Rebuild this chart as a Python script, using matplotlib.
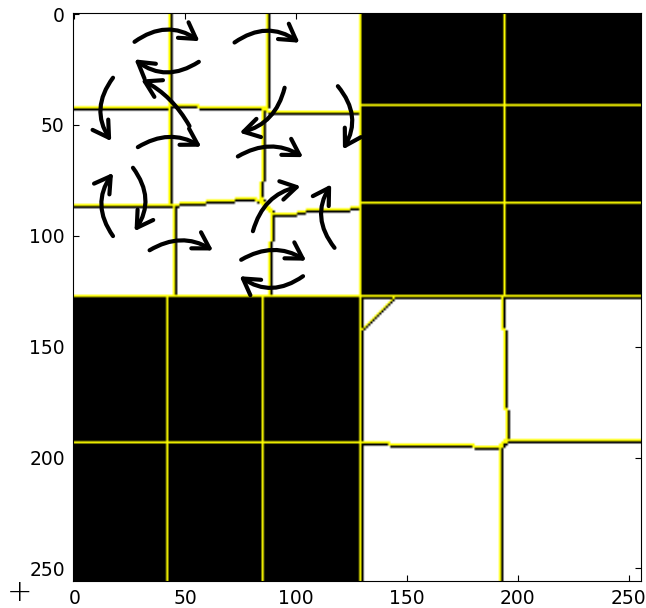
import numpy as np
import matplotlib
matplotlib.use("Agg")
import matplotlib.pyplot as plt
from matplotlib.patches import FancyArrowPatch

SIZE = 256
SPLIT_X = 130
SPLIT_Y = 128

# segment boundaries per quadrant: (breakpoints, positions)
# top-left quadrant (white)
TL_V1 = ([0, 86, 87, 128], [43.3, 43.3, 45.2, 45.2])
TL_V2 = ([0, 42, 43, 74, 83, 90, 102, 103, 128], [87.4, 87.4, 85.7, 85.1, 84.4, 90, 89.6, 88.4, 88.4])
TL_H1 = ([0, 43, 44, 56, 57, 86, 88, 130], [42.5, 42.5, 41.6, 41.6, 42.5, 42.5, 44.2, 44.2])
TL_H2 = ([0, 43, 45, 82, 90, 100, 101, 130], [86.2, 86.2, 86.2, 83.2, 90.4, 90.4, 89.2, 87.7])
# top-right quadrant (black)
TR_V1 = ([0, 128], [194.2, 194.2])
TR_H1 = ([130, 256], [42.0, 42.0])
TR_H2 = ([130, 256], [85.3, 85.3])
# bottom-left quadrant (black)
BL_V1 = ([128, 256], [42.6, 42.6])
BL_V2 = ([128, 256], [85.6, 85.6])
BL_H1 = ([0, 130], [193.4, 193.4])
# bottom-right quadrant (white)
BR_V1 = ([128, 142, 143, 178, 179, 193, 194, 256], [193.4, 193.4, 194.5, 194.5, 195.4, 195.4, 193.0, 193.0])
BR_H1 = ([130, 142, 143, 180, 181, 193, 194, 256], [193.2, 193.2, 194.4, 194.4, 195.5, 195.5, 193.0, 193.0])
BR_CORNER = 15  # small triangle cut off in the top-left corner

# hand-drawn arrows: (tail x, tail y, head x, head y, bend)
ARROWS = [
    (27.2, 12.5, 56.5, 12.2, -0.35),
    (56.2, 21.5, 27.2, 20.4, -0.35),
    (72.3, 12.8, 101.6, 12.9, -0.35),
    (52.0, 50.5, 30.2, 29.5, 0.15),
    (17.5, 28.7, 16.7, 57.3, 0.35),
    (28.7, 60.0, 57.3, 59.8, -0.3),
    (94.9, 33.2, 74.6, 53.5, -0.3),
    (73.8, 64.2, 103.2, 64.5, -0.3),
    (118.9, 32.5, 121.2, 61.0, -0.35),
    (17.5, 100.1, 17.5, 71.6, -0.35),
    (26.5, 69.3, 27.2, 97.9, -0.35),
    (34.0, 106.5, 62.6, 106.6, -0.3),
    (80.6, 97.9, 102.1, 77.6, -0.3),
    (117.4, 105.4, 115.9, 76.8, -0.35),
    (75.3, 110.8, 104.6, 111.2, -0.3),
    (103.2, 118.2, 74.6, 118.2, -0.35),
]

TICKS = [0, 50, 100, 150, 200, 250]


def count(coord, along, *bounds):
    n = np.zeros(coord.shape, dtype=int)
    for b in bounds:
        n += coord >= np.interp(along, b[0], b[1])
    return n


yy, xx = np.mgrid[0:SIZE, 0:SIZE].astype(float)
top = yy < SPLIT_Y
left = xx < SPLIT_X

labels = np.zeros((SIZE, SIZE), dtype=int)
tl = count(yy, xx, TL_H1, TL_H2) * 3 + count(xx, yy, TL_V1, TL_V2)
tr = count(yy, xx, TR_H1, TR_H2) * 3 + count(xx, yy, TR_V1)
bl = count(yy, xx, BL_H1) * 3 + count(xx, yy, BL_V1, BL_V2)
br = count(yy, xx, BR_H1) * 3 + count(xx, yy, BR_V1)
br = np.where((xx - SPLIT_X) + (yy - SPLIT_Y) < BR_CORNER, 8, br)
labels[top & left] = tl[top & left]
labels[top & ~left] = 10 + tr[top & ~left]
labels[~top & left] = 20 + bl[~top & left]
labels[~top & ~left] = 30 + br[~top & ~left]

img = np.zeros((SIZE, SIZE, 3))
img[(top & left) | (~top & ~left)] = 1.0

# yellow boundary pixels with a black outline on the far side
diff_right = np.zeros_like(top)
diff_down = np.zeros_like(top)
diff_right[:, :-1] = labels[:, :-1] != labels[:, 1:]
diff_down[:-1, :] = labels[:-1, :] != labels[1:, :]
yellow = diff_right | diff_down
outline = np.zeros_like(top)
outline[:, 1:] |= diff_right[:, :-1]
outline[1:, :] |= diff_down[:-1, :]
img[outline] = 0.0
img[yellow] = [1.0, 1.0, 0.0]

fig = plt.figure(figsize=(6.46, 6.08), dpi=100)
ax = fig.add_axes([0.113, 0.045, 0.879, 0.9336])
ax.imshow(img, interpolation="bilinear")

for x0, y0, x1, y1, rad in ARROWS:
    arr = FancyArrowPatch((x0, y0), (x1, y1),
                          connectionstyle=f"arc3,rad={rad}",
                          arrowstyle="->,head_length=0.75,head_width=0.45",
                          mutation_scale=15, lw=3.0, color="black",
                          shrinkA=0, shrinkB=0,
                          capstyle="round", joinstyle="round")
    ax.add_patch(arr)

ax.set_xticks(TICKS)
ax.set_yticks(TICKS)
ax.tick_params(direction="in", top=True, right=True, length=4, width=0.8,
               labelsize=13.5, pad=6)
ax.set_xlim(-0.5, SIZE - 0.5)
ax.set_ylim(SIZE - 0.5, -0.5)

fig.text(0.031, 0.026, "+", fontsize=22, fontweight="light",
         ha="center", va="center")

fig.savefig("out.png", dpi=100)
